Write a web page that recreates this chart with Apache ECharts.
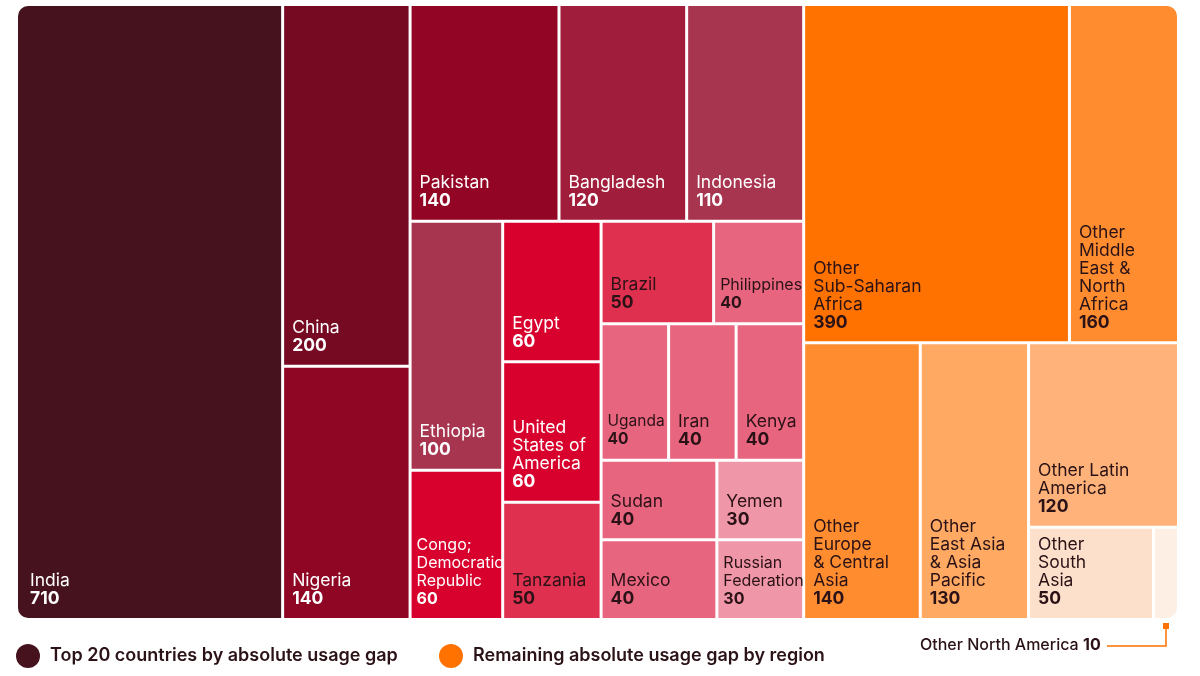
<!DOCTYPE html>
<html>
<head>
<meta charset="utf-8">
<script src="https://cdn.jsdelivr.net/npm/echarts@6/dist/echarts.min.js"></script>
<style>
  html, body { margin: 0; padding: 0; background: #fff; }
  #chart { width: 1200px; height: 676px; }
</style>
</head>
<body>
<div id="chart"></div>
<script>
// top 20 countries by absolute usage gap (millions)
const countryNames = ['India', 'China', 'Nigeria', 'Pakistan', 'Bangladesh', 'Indonesia', 'Ethiopia',
  'Egypt', 'United\nStates of\nAmerica', 'Congo;\nDemocratic\nRepublic', 'Tanzania', 'Brazil',
  'Philippines', 'Uganda', 'Iran', 'Kenya', 'Sudan', 'Mexico', 'Yemen', 'Russian\nFederation'];
const countryValues = [710, 200, 140, 140, 120, 110, 100, 60, 60, 60, 50, 50, 40, 40, 40, 40, 40, 40, 30, 30];
const countryColors = ['#45121e', '#750a22', '#8e0623', '#930524', '#a01d3b', '#a8354f', '#a8354f',
  '#d8002d', '#d8002d', '#d8002d', '#e0304f', '#e0304f', '#e8657f', '#e8657f', '#e8657f', '#e8657f',
  '#e8657f', '#e8657f', '#ef97a8', '#ef97a8'];

// remaining gap by region
const regionNames = ['Other\nSub-Saharan\nAfrica', 'Other\nMiddle\nEast &\nNorth\nAfrica',
  'Other\nEurope\n& Central\nAsia', 'Other\nEast Asia\n& Asia\nPacific', 'Other Latin\nAmerica',
  'Other\nSouth\nAsia', 'Other North America'];
const regionValues = [390, 160, 140, 130, 120, 50, 10];
const regionColors = ['#ff7200', '#ff8d30', '#ff8d30', '#ffa962', '#ffb27a', '#fde0cc', '#fdefe4'];

// how the cells are grouped into blocks (indices into the arrays above)
// India stands alone on the left, the rest of the countries follow in these blocks
const countryNest = [[1, 2], [[[3, 4], 5], [[6, 9], [[7, 8, 10], [[11, 12], [13, 14, 15, 16, 17, 18, 19]]]]]];
const regionNest = [[0, 1], [[2, 3], [4, [5, 6]]]];

const lightText = '#ffffff';
const darkText = '#2b1216';
const LINE_H = 18;
const PAD_BOTTOM = 10;
const PAD_LEFT = 8;

const leaves = [];
function leaf(name, value, color, textColor) {
  const item = {
    name: name,
    value: value,
    itemStyle: { color: color },
    label: { color: textColor, padding: [0, 0, PAD_BOTTOM, PAD_LEFT] }
  };
  leaves.push(item);
  return item;
}
function build(nest, make) {
  if (typeof nest === 'number') return make(nest);
  return { name: '', children: nest.map(n => build(n, make)) };
}

const countryLeaves = countryNames.map((n, i) =>
  leaf(n, countryValues[i], countryColors[i], i < 10 ? lightText : darkText));
const regionLeaves = regionNames.map((n, i) =>
  leaf(n, regionValues[i], regionColors[i], darkText));
const naLeaf = regionLeaves[regionLeaves.length - 1];
naLeaf.label = { show: false };

const seriesData = [
  countryLeaves[0],
  { name: '', children: [build(countryNest, i => countryLeaves[i]), build(regionNest, i => regionLeaves[i])] }
];

const chart = echarts.init(document.getElementById('chart'));
chart.setOption({
  backgroundColor: '#ffffff',
  textStyle: { fontFamily: 'Inter' },
  series: [{
    type: 'treemap',
    left: 18, top: 6, right: 23, bottom: 58,
    roam: false,
    nodeClick: false,
    breadcrumb: { show: false },
    sort: false,
    squareRatio: 1.35,
    animation: false,
    itemStyle: { borderWidth: 0, gapWidth: 3, borderColor: '#fff' },
    label: {
      show: true,
      position: 'insideTopLeft',
      distance: 0,
      fontFamily: 'Inter',
      fontSize: 17.5,
      lineHeight: LINE_H,
      overflow: 'none',
      formatter: p => p.name + '\n{v|' + p.value + '}',
      rich: { v: { fontWeight: 'bold', fontSize: 17.5, lineHeight: LINE_H } }
    },
    upperLabel: { show: false },
    data: seriesData
  }],
  graphic: [
    { type: 'circle', left: 16, top: 644, shape: { r: 12 }, style: { fill: '#45121e' } },
    { type: 'text', left: 50, top: 647, style: { text: 'Top 20 countries by absolute usage gap', font: '600 18px Inter', fill: '#2b1216' } },
    { type: 'circle', left: 439, top: 644, shape: { r: 12 }, style: { fill: '#ff7200' } },
    { type: 'text', left: 473, top: 647, style: { text: 'Remaining absolute usage gap by region', font: '600 18px Inter', fill: '#2b1216' } },
    { type: 'text', left: 920, top: 637, style: { text: 'Other North America', font: '500 16px Inter', fill: '#2b1216' } },
    { type: 'text', left: 1083, top: 637, style: { text: '10', font: 'bold 16px Inter', fill: '#2b1216' } },
    { type: 'polyline', shape: { points: [[1107, 646], [1166, 646], [1166, 628]] }, style: { stroke: '#ff7200', lineWidth: 1.5, fill: null } },
    { type: 'rect', shape: { x: 1163, y: 623, width: 6, height: 6 }, style: { fill: '#ff7200' } }
  ]
});

// push labels to the bottom of each cell using the layout the treemap computed
const tree = chart.getModel().getSeriesByIndex(0).getData().tree;
const cellHeight = {};
tree.root.eachNode(node => {
  const lay = node.getLayout();
  if (lay && !node.children.length) cellHeight[node.name] = lay.height;
});
leaves.forEach(item => {
  if (!item.label.padding || cellHeight[item.name] == null) return;
  const lines = item.name.split('\n').length + 1;
  const top = Math.max(0, cellHeight[item.name] - lines * LINE_H - PAD_BOTTOM);
  item.label.padding = [top, 0, PAD_BOTTOM, item === countryLeaves[0] ? 12 : PAD_LEFT];
});
// narrow cells: smaller text so names stay inside
[[9, 16], [12, 16], [13, 15.5], [19, 16]].forEach(([i, size]) => {
  const lab = countryLeaves[i].label;
  lab.fontSize = size;
  lab.rich = { v: { fontWeight: 'bold', fontSize: size, lineHeight: LINE_H } };
  lab.padding[3] = 5;
});
// rounded outer corners
countryLeaves[0].itemStyle.borderRadius = [10, 0, 0, 10];
regionLeaves[1].itemStyle.borderRadius = [0, 10, 0, 0];
naLeaf.itemStyle.borderRadius = [0, 0, 10, 0];
chart.setOption({ series: [{ data: seriesData }] });
</script>
</body>
</html>
